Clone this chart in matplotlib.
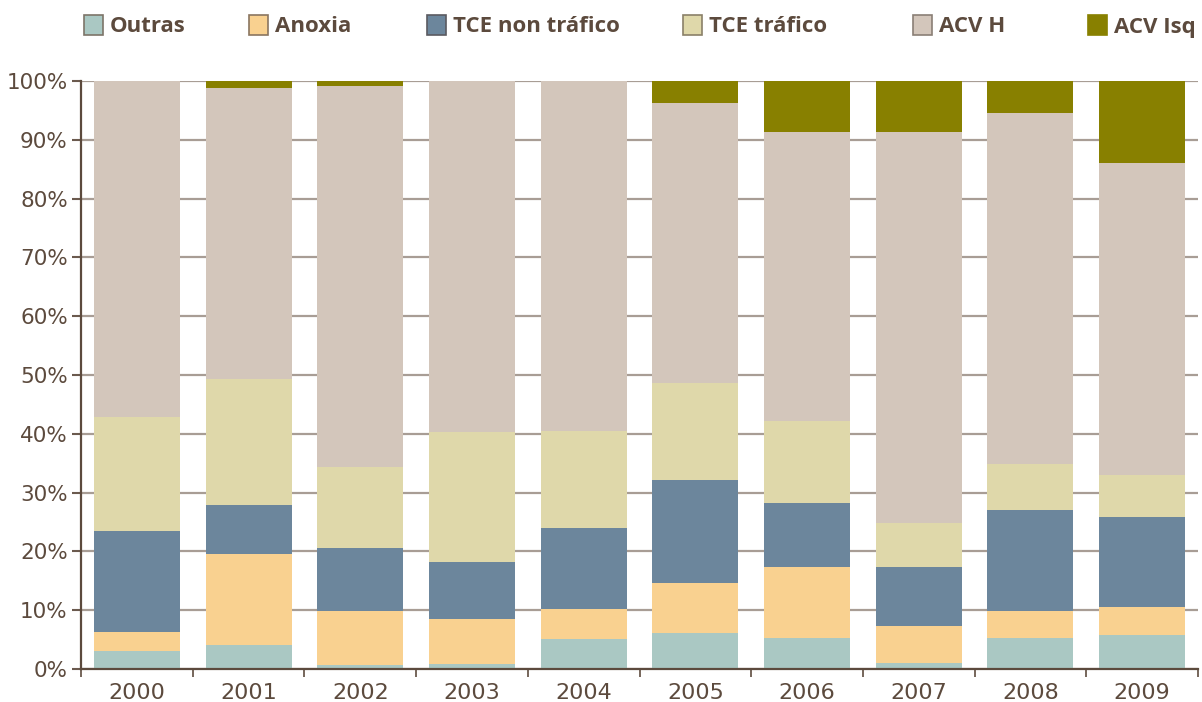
import matplotlib
matplotlib.use("Agg")
import matplotlib.pyplot as plt
from matplotlib.patches import Rectangle
import numpy as np

years = ["2000", "2001", "2002", "2003", "2004", "2005", "2006", "2007", "2008", "2009"]
series_names = ["Outras", "Anoxia", "TCE non tráfico", "TCE tráfico", "ACV H", "ACV Isq"]

# cumulative tops (percent)
outras_top   = [3.1, 4.1, 0.7, 0.9, 5.1, 6.1, 5.3, 1.0, 5.3, 5.8]
anoxia_top   = [6.3, 19.6, 9.9, 8.5, 10.2, 14.6, 17.3, 7.3, 9.9, 10.5]
tce_non_top  = [23.5, 27.9, 20.6, 18.2, 24.0, 32.1, 28.2, 17.3, 27.0, 25.9]
tce_traf_top = [42.9, 49.3, 34.4, 40.3, 40.5, 48.6, 42.2, 24.8, 34.9, 33.0]
acv_h_top    = [100.0, 98.8, 99.1, 100.0, 100.0, 96.3, 91.3, 91.3, 94.6, 86.1]
acv_isq_top  = [100.0] * 10

colors = ["#aac8c3", "#f9d190", "#6c869c", "#dfd8aa", "#d3c6bb", "#888000"]
edge_colors = ["#7d7468", "#8a7560", "#5a5a60", "#8a8068", "#8a7f76", "#888000"]
text_color = "#5c4a3d"
grid_color = "#a89d95"
tick_color = "#6b5a4e"

tops = [outras_top, anoxia_top, tce_non_top, tce_traf_top, acv_h_top, acv_isq_top]
segments = []
prev = np.zeros(len(years))
for t in tops:
    t = np.array(t, dtype=float)
    segments.append((prev.copy(), t - prev))
    prev = t

fig = plt.figure(figsize=(12.02, 7.02), dpi=100)
ax = fig.add_axes([81 / 1202, 1 - 669 / 702, (1198 - 81) / 1202, (669 - 81) / 702])

x = np.arange(len(years))
for (bottom, height), c in zip(segments, colors):
    ax.bar(x, height, bottom=bottom, width=0.77, color=c, linewidth=0, zorder=3)

ax.set_xlim(-0.5, len(years) - 0.5)
ax.set_ylim(0, 100)

ax.set_yticks(np.arange(0, 101, 10))
ax.set_yticklabels([f"{v}%" for v in range(0, 101, 10)])
ax.yaxis.grid(True, color=grid_color, linewidth=1.6, zorder=0)
ax.set_axisbelow(True)

ax.set_xticks(x)
ax.set_xticklabels(years)
ax.set_xticks(np.arange(-0.5, len(years)), minor=True)
ax.tick_params(axis="x", which="major", length=0, pad=10, labelsize=16, labelcolor=text_color)
ax.tick_params(axis="x", which="minor", length=6, width=1.3, color=tick_color)
ax.tick_params(axis="y", length=6.5, width=1.5, color=tick_color, pad=3, labelsize=15.5, labelcolor=text_color)

for lab in ax.get_xticklabels() + ax.get_yticklabels():
    lab.set_fontfamily(["DejaVu Sans"])

for s in ["top", "right"]:
    ax.spines[s].set_visible(False)
for s in ["left", "bottom"]:
    ax.spines[s].set_color(text_color)
    ax.spines[s].set_linewidth(1.6)
    ax.spines[s].set_zorder(4)

# legend (manual, fixed positions)
legend_x = [84, 249, 427, 683, 913, 1088]
patch_size = 19
y_center = 25
for name, c, ec, lx in zip(series_names, colors, edge_colors, legend_x):
    fig.patches.append(Rectangle((lx / 1202, 1 - (y_center + patch_size / 2) / 702),
                                 patch_size / 1202, patch_size / 702,
                                 transform=fig.transFigure, facecolor=c,
                                 edgecolor=ec, linewidth=1.2))
    fig.text((lx + 26) / 1202, 1 - (y_center + 2) / 702, name,
             ha="left", va="center", fontsize=16, fontweight="bold",
             color=text_color, family=["Open Sans", "DejaVu Sans"])

fig.savefig("out.png", dpi=100)
